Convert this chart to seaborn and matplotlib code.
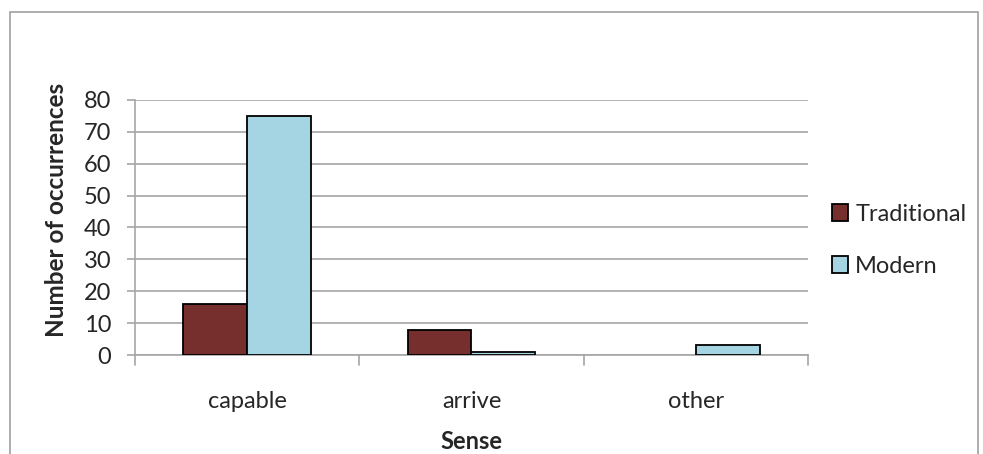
import numpy as np
import pandas as pd
import matplotlib.pyplot as plt
import seaborn as sns
from matplotlib.patches import Rectangle

senses = ["capable", "arrive", "other"]
traditional = [16, 8, 0]
modern = [75, 1, 3]
series = ["Traditional", "Modern"]

df = pd.DataFrame({
    "Sense": senses * 2,
    "Group": ["Traditional"] * 3 + ["Modern"] * 3,
    "count": traditional + modern,
})

sns.set_style("white")
plt.rcParams["font.family"] = ["Lato", "DejaVu Sans"]

fig = plt.figure(figsize=(9.83, 4.54), dpi=100)
ax = fig.add_axes([0.1373, 0.218, 0.822 - 0.1373, 0.562])

palette = {"Traditional": "#772F2D", "Modern": "#A5D5E2"}
sns.barplot(data=df, x="Sense", y="count", hue="Group", hue_order=series,
            order=senses, palette=palette, width=0.57, edgecolor="black",
            linewidth=1.3, saturation=1, ax=ax, zorder=3)
# empty bars show no outline
for bar in ax.patches:
    if bar.get_height() == 0:
        bar.set_linewidth(0)

ax.set_ylim(0, 80)
ax.set_yticks(np.arange(0, 81, 10))
ax.set_xlim(-0.5, 2.5)
ax.yaxis.grid(True, color="#a6a6a6", linewidth=1.2, zorder=0)
ax.set_axisbelow(True)
for s in ["top", "right"]:
    ax.spines[s].set_visible(False)
for s in ["left", "bottom"]:
    ax.spines[s].set_color("#a6a6a6")
    ax.spines[s].set_linewidth(1.2)

ax.tick_params(axis="y", length=6, color="#a6a6a6", width=1.2, labelsize=17, pad=11,
               left=True)
ax.tick_params(axis="x", length=0, labelsize=17, pad=26, bottom=False)
# category separators on x axis
for xv in [-0.5, 0.5, 1.5, 2.5]:
    ax.plot([xv, xv], [0, -3], color="#a6a6a6", linewidth=1.2, clip_on=False)

ax.set_xlabel("Sense", fontsize=17, fontweight="bold", labelpad=13)
ax.set_ylabel("Number of occurrences", fontsize=17.5, fontweight="bold")
ax.yaxis.set_label_coords(-0.10, 0.57)

leg = ax.legend(loc="center left", bbox_to_anchor=(1.0, 0.45), frameon=False,
                fontsize=17, handlelength=0.7, handleheight=0.7, handletextpad=0.3,
                labelspacing=1.3, borderaxespad=0.6)
for h in leg.legend_handles:
    h.set_edgecolor("black")
    h.set_linewidth(1.3)

fig.patches.append(Rectangle((10 / 983, -0.1), 968 / 983, 1.1 - 12 / 454,
                             transform=fig.transFigure, fill=False,
                             edgecolor="#a0a0a0", linewidth=1.2))

fig.savefig("out.png", dpi=100)
